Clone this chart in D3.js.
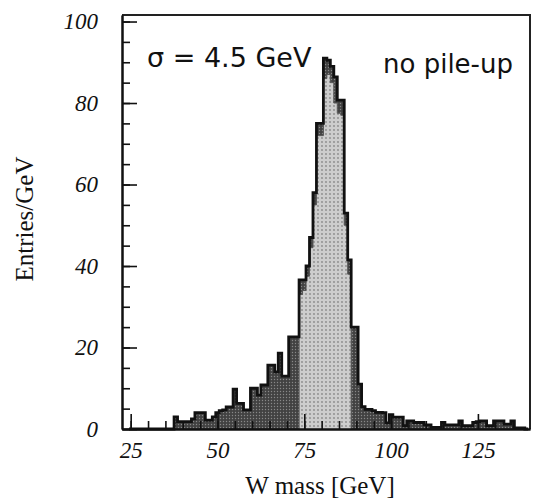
<!DOCTYPE html>
<html>
<head>
<meta charset="utf-8">
<script src="https://cdn.jsdelivr.net/npm/d3@7"></script>
<style>
  body { margin: 0; background: #fff; }
  svg { display: block; }
</style>
</head>
<body>
<svg id="chart" width="537" height="502"></svg>
<script>
// W mass histogram, 1 GeV bins (bin centres in GeV)
const massBins = d3.range(25, 140);

// All reconstructed events, entries per GeV
const allEntries = [
  0, 0, 0, 0, 0,                                   // 25-29
  0, 0, 0, 0, 0, 0, 0, 0, 3, 1.8,                  // 30-39
  1.8, 1.8, 1.8, 2.5, 4, 4, 4, 2.2, 2.2, 3,        // 40-49
  4, 4.5, 4.7, 5.4, 5.4, 9.8, 6.3, 6.3, 4.7, 4.7,  // 50-59
  10, 10, 8.3, 10.8, 10.8, 15.7, 15.7, 14, 18.6, 13, // 60-69
  13, 22.6, 22.6, 22.6, 36.6, 36.6, 40, 47, 58, 75,  // 70-79
  75, 91, 90.5, 89, 86.4, 80.7, 80.7, 53, 41.5, 25,  // 80-89
  25, 11, 5.5, 4.8, 4.8, 4.5, 4.1, 4.1, 4, 1.5,      // 90-99
  3.5, 2.9, 2.9, 2.9, 0.8, 2, 2, 1.6, 1.6, 1.6,      // 100-109
  1, 1, 0.4, 0.4, 0.4, 1.6, 1, 1, 1, 1,              // 110-119
  2, 0.8, 0.8, 0.8, 1.6, 1.8, 2, 2, 0.8, 0.8,        // 120-129
  2, 2, 2, 1.2, 1.2, 2, 0.3, 0.3, 0.3, 0             // 130-139
];

// Events inside the mass window (lighter histogram)
const windowBins = d3.range(74, 89);
const windowEntries = [33, 34, 37.5, 44.5, 55, 72, 72, 86, 87, 85, 80, 77.5, 77, 50, 38];

const xMajorTicks = [25, 50, 75, 100, 125];
const xMinorTicks = d3.range(25, 140, 5);
const yMajorTicks = [0, 20, 40, 60, 80, 100];
const yMinorTicks = d3.range(0, 101, 5);

const svg = d3.select("#chart");

const x = d3.scaleLinear().domain([22.5, 140]).range([122, 530]);
const y = d3.scaleLinear().domain([0, 101.6]).range([429, 15]);

// Halftone-like fills
const defs = svg.append("defs");
const darkPat = defs.append("pattern")
  .attr("id", "darkFill").attr("patternUnits", "userSpaceOnUse")
  .attr("width", 3).attr("height", 3);
darkPat.append("rect").attr("width", 3).attr("height", 3).attr("fill", "#424242");
darkPat.append("circle").attr("cx", 1.5).attr("cy", 1.5).attr("r", 0.7).attr("fill", "#888");

const lightPat = defs.append("pattern")
  .attr("id", "lightFill").attr("patternUnits", "userSpaceOnUse")
  .attr("width", 4).attr("height", 4);
lightPat.append("rect").attr("width", 4).attr("height", 4).attr("fill", "#cdcdcd");
lightPat.append("circle").attr("cx", 2).attr("cy", 2).attr("r", 0.9).attr("fill", "#8a8a8a");

// Step outline points: rise from baseline, one corner per bin, drop back down
function stepPoints(centres, values) {
  const pts = [{ m: centres[0] - 0.5, v: 0 }];
  centres.forEach((c, i) => pts.push({ m: c - 0.5, v: values[i] }));
  const last = centres[centres.length - 1] + 0.5;
  pts.push({ m: last, v: values[values.length - 1] });
  pts.push({ m: last, v: 0 });
  return pts;
}

const area = d3.area().curve(d3.curveStepAfter)
  .x(d => x(d.m)).y0(y(0)).y1(d => y(d.v));
const line = d3.line().curve(d3.curveStepAfter)
  .x(d => x(d.m)).y(d => y(d.v));

const allPts = stepPoints(massBins, allEntries);
const winPts = stepPoints(windowBins, windowEntries);

svg.append("path").datum(allPts)
  .attr("d", area).attr("fill", "url(#darkFill)");
svg.append("path").datum(winPts)
  .attr("d", area).attr("fill", "url(#lightFill)");
svg.append("path").datum(winPts)
  .attr("d", line).attr("fill", "none").attr("stroke", "#555").attr("stroke-width", 1);
svg.append("path").datum(allPts)
  .attr("d", line).attr("fill", "none").attr("stroke", "#111")
  .attr("stroke-width", 2.8).attr("stroke-linejoin", "miter");

// Frame (top and right sides)
svg.append("path")
  .attr("d", `M${x(22.5)},${y(101.6)}H${x(140)}V${y(0)}`)
  .attr("fill", "none").attr("stroke", "#222").attr("stroke-width", 2);

// Axes with inward ticks
const tickFont = "'Liberation Serif', 'Times New Roman', serif";

const yMinor = svg.append("g").attr("transform", `translate(${x(22.5)},0)`)
  .call(d3.axisLeft(y).tickValues(yMinorTicks).tickSize(-8).tickSizeOuter(0).tickFormat(""));
const yMajor = svg.append("g").attr("transform", `translate(${x(22.5)},0)`)
  .call(d3.axisLeft(y).tickValues(yMajorTicks).tickSize(-15).tickSizeOuter(0).tickPadding(24));
const xMinor = svg.append("g").attr("transform", `translate(0,${y(0)})`)
  .call(d3.axisBottom(x).tickValues(xMinorTicks).tickSize(-8).tickSizeOuter(0).tickFormat(""));
const xMajor = svg.append("g").attr("transform", `translate(0,${y(0)})`)
  .call(d3.axisBottom(x).tickValues(xMajorTicks).tickSize(-15).tickSizeOuter(0).tickPadding(13));

[yMinor, yMajor, xMinor, xMajor].forEach(g => {
  g.select(".domain").attr("stroke", "#111").attr("stroke-width", 2);
  g.selectAll(".tick line").attr("stroke", "#111").attr("stroke-width", 1.6);
  g.selectAll(".tick text")
    .attr("fill", "#111")
    .style("font-family", tickFont)
    .style("font-style", "italic")
    .style("font-size", "23px");
});

// Axis titles
svg.append("text")
  .attr("x", 320).attr("y", 494)
  .attr("text-anchor", "middle")
  .style("font-family", tickFont).style("font-size", "25px").attr("fill", "#111")
  .text("W mass [GeV]");

svg.append("text")
  .attr("transform", "translate(33,219) rotate(-90)")
  .attr("text-anchor", "middle")
  .style("font-family", tickFont).style("font-size", "25px").attr("fill", "#111")
  .text("Entries/GeV");

// Annotations
svg.append("text")
  .attr("x", 147).attr("y", 67)
  .style("font-family", "'DejaVu Sans', sans-serif").style("font-size", "27px").attr("fill", "#111")
  .text("σ = 4.5 GeV");

svg.append("text")
  .attr("x", 383).attr("y", 73)
  .style("font-family", "'DejaVu Sans', sans-serif").style("font-size", "26px").attr("fill", "#111")
  .text("no pile-up");
</script>
</body>
</html>
